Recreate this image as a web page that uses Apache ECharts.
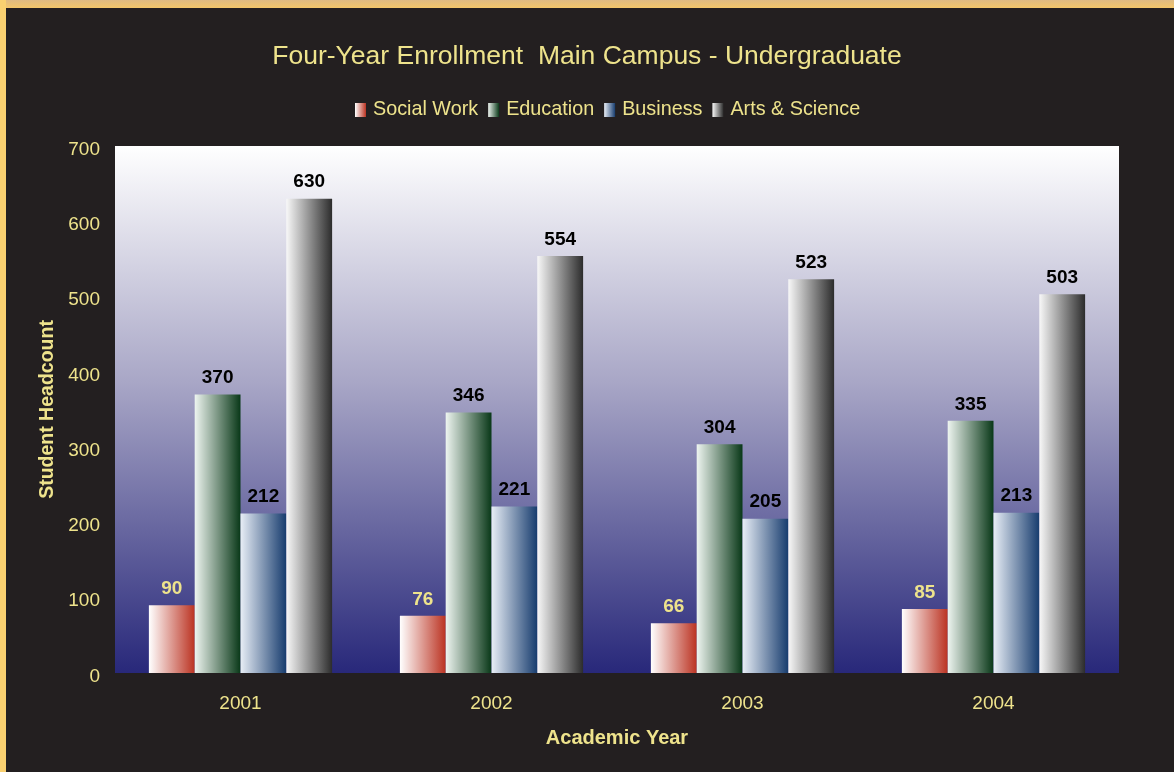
<!DOCTYPE html>
<html>
<head>
<meta charset="utf-8">
<script src="https://cdn.jsdelivr.net/npm/echarts@6/dist/echarts.min.js"></script>
<style>
  html, body { margin: 0; padding: 0; background: #231f20; }
  #frame { position: relative; width: 1174px; height: 772px; background: #231f20; overflow: hidden; }
  #topbar { position: absolute; left: 0; top: 0; width: 1174px; height: 8px; background: linear-gradient(#dfba82, #f3c66a); }
  #leftbar { position: absolute; left: 0; top: 0; width: 6px; height: 772px; background: #f9d070; }
  #chart { position: absolute; left: 0; top: 0; width: 1174px; height: 772px; }
</style>
</head>
<body>
<div id="frame">
  <div id="chart"></div>
  <div id="topbar"></div>
  <div id="leftbar"></div>
</div>
<script>
const years = ['2001', '2002', '2003', '2004'];
const socialWork = [90, 76, 66, 85];
const education = [370, 346, 304, 335];
const business = [212, 221, 205, 213];
const artsScience = [630, 554, 523, 503];

const yellow = '#eee38c';
const font = 'Liberation Sans, Arial, sans-serif';

function hGrad(from, to) {
  return new echarts.graphic.LinearGradient(0, 0, 1, 0, [
    { offset: 0, color: from },
    { offset: 1, color: to }
  ]);
}

const seriesDefs = [
  { name: 'Social Work', data: socialWork, from: '#ffffff', to: '#bb3322', label: yellow },
  { name: 'Education', data: education, from: '#eef5f0', to: '#093818', label: '#000' },
  { name: 'Business', data: business, from: '#e8eef6', to: '#173c6e', label: '#000' },
  { name: 'Arts & Science', data: artsScience, from: '#f8f8f8', to: '#2c2c2c', label: '#000' }
];

const chart = echarts.init(document.getElementById('chart'));
chart.setOption({
  backgroundColor: '#231f20',
  animation: false,
  title: {
    text: 'Four-Year Enrollment  Main Campus - Undergraduate',
    left: 'center',
    top: 38,
    textStyle: { color: yellow, fontSize: 26.5, fontWeight: 'normal', fontFamily: font }
  },
  legend: {
    top: 95,
    left: 350,
    itemWidth: 11,
    itemHeight: 14,
    itemGap: 10,
    textStyle: { color: yellow, fontSize: 19.8, fontFamily: font, padding: [0, 0, 0, 2] },
    data: seriesDefs.map(s => ({ name: s.name, icon: 'rect' }))
  },
  grid: {
    left: 115, right: 55, top: 146, bottom: 99,
    show: true,
    borderWidth: 0,
    backgroundColor: new echarts.graphic.LinearGradient(0, 0, 0, 1, [
      { offset: 0, color: '#ffffff' },
      { offset: 0.45, color: '#a8a6c6' },
      { offset: 1, color: '#28287a' }
    ])
  },
  xAxis: {
    type: 'category',
    data: years,
    name: 'Academic Year',
    nameLocation: 'middle',
    nameGap: 55,
    nameTextStyle: { color: yellow, fontSize: 20, fontWeight: 'bold', fontFamily: font },
    axisLine: { show: false },
    axisTick: { show: false },
    axisLabel: { color: yellow, fontSize: 19, margin: 21, fontFamily: font }
  },
  yAxis: {
    type: 'value',
    min: 0, max: 700, interval: 100,
    name: 'Student Headcount',
    nameLocation: 'middle',
    nameGap: 56,
    nameTextStyle: { color: yellow, fontSize: 19.5, fontWeight: 'bold', fontFamily: font },
    splitLine: { show: false },
    axisLine: { show: false },
    axisTick: { show: false },
    axisLabel: {
      margin: 15,
      formatter: v => '{t|' + v + '}',
      rich: { t: { color: yellow, fontSize: 19, fontFamily: font, padding: [7, 0, 0, 0] } }
    }
  },
  series: seriesDefs.map(s => ({
    name: s.name,
    type: 'bar',
    data: s.data,
    barGap: '0%',
    barCategoryGap: '27%',
    itemStyle: { color: hGrad(s.from, s.to) },
    label: {
      show: true,
      position: 'top',
      distance: 7,
      color: s.label,
      fontSize: 19,
      fontWeight: 'bold',
      fontFamily: font
    }
  }))
});
</script>
</body>
</html>
